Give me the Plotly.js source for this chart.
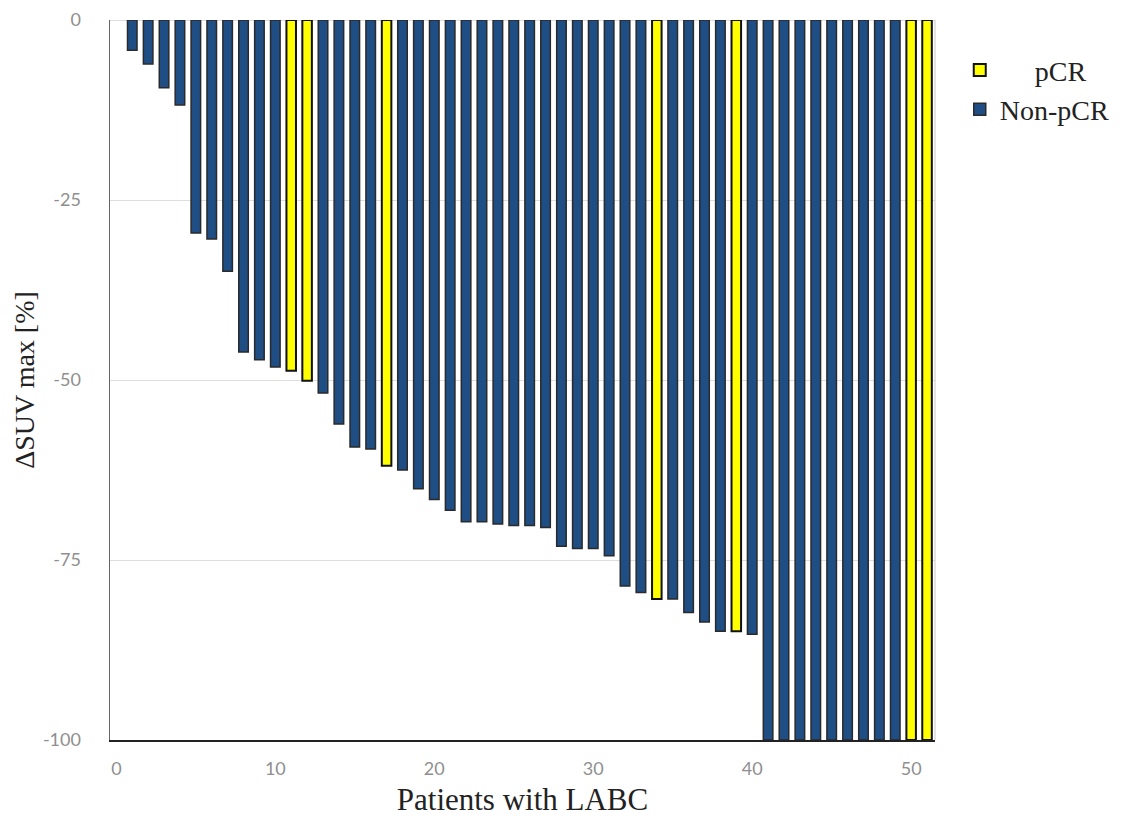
<!DOCTYPE html>
<html>
<head>
<meta charset="utf-8">
<script src="https://cdn.plot.ly/plotly-3.0.1.min.js"></script>
<style>html,body{margin:0;padding:0;background:#fff;}#chart{width:1128px;height:817px;}</style>
</head>
<body>
<div id="chart"></div>
<script>
// Patient index, ΔSUVmax (%), and response group
const patients = [1,2,3,4,5,6,7,8,9,10,11,12,13,14,15,16,17,18,19,20,21,22,23,24,25,26,27,28,29,30,31,32,33,34,35,36,37,38,39,40,41,42,43,44,45,46,47,48,49,50,51];
const deltaSUV = [-4.2,-6.1,-9.4,-11.8,-29.6,-30.4,-34.9,-46.1,-47.2,-48.2,-48.7,-50.1,-51.8,-56.1,-59.3,-59.6,-61.9,-62.5,-65.1,-66.6,-68.1,-69.7,-69.7,-70.0,-70.2,-70.2,-70.5,-73.1,-73.4,-73.4,-74.4,-78.6,-79.5,-80.4,-80.4,-82.3,-83.6,-84.9,-84.9,-85.3,-100,-100,-100,-100,-100,-100,-100,-100,-100,-100,-100];
const pCRPatients = [11,12,17,34,39,50,51];
const groupNames = ["pCR", "Non-pCR"];
const yTicks = [0,-25,-50,-75,-100];
const xTicks = [0,10,20,30,40,50];

const isPCR = patients.map(p => pCRPatients.includes(p));
function pick(flag) {
  const xs = [], ys = [];
  patients.forEach((p, i) => { if (isPCR[i] === flag) { xs.push(p); ys.push(deltaSUV[i]); } });
  return {xs, ys};
}
const a = pick(true), b = pick(false);

const traces = [
  {type:'bar', name:'&nbsp;&nbsp;&nbsp;&nbsp;&nbsp;' + groupNames[0], x:a.xs, y:a.ys, width:0.6,
   marker:{color:'#ffff00', line:{color:'#111111', width:2}}},
  {type:'bar', name:groupNames[1], x:b.xs, y:b.ys, width:0.6,
   marker:{color:'#1f4e85', line:{color:'#2a2a2a', width:1.5}}}
];

const layout = {
  width:1128, height:817,
  margin:{l:110, r:193, t:20, b:77, autoexpand:false},
  paper_bgcolor:'#ffffff', plot_bgcolor:'#ffffff',
  barmode:'overlay',
  showlegend:true,
  legend:{x:1.03, y:0.965, xanchor:'left', yanchor:'top',
    font:{family:'Liberation Serif', size:28, color:'#222'},
    tracegroupgap:0, itemwidth:30, traceorder:'normal'},
  xaxis:{range:[-0.4,51.5], tickvals:xTicks, ticktext:xTicks.map(String),
    showgrid:false, zeroline:false, showline:true, linecolor:'#222', linewidth:1.5,
    ticks:'', ticklabelstandoff:12,
    tickfont:{family:'Lato', size:18, color:'#8f8f8f'},
    title:{text:'Patients with LABC', font:{family:'Liberation Serif', size:31, color:'#222'}, standoff:10}},
  yaxis:{range:[-100,0], tickvals:yTicks, ticktext:yTicks.map(String),
    showgrid:true, gridcolor:'#dedede', gridwidth:1, zeroline:true, zerolinecolor:'#dedede', zerolinewidth:1,
    showline:true, linecolor:'#666', linewidth:1.5,
    ticks:'', ticklabelstandoff:24,
    tickfont:{family:'Lato', size:18, color:'#8f8f8f'},
    title:{text:'ΔSUV max [%]', font:{family:'Liberation Serif', size:28, color:'#222'}, standoff:0}},
  shapes:[{type:'line', xref:'paper', yref:'paper', x0:1, x1:1, y0:0, y1:1, line:{color:'#c8c8c8', width:1}}]
};

Plotly.newPlot('chart', traces, layout, {displayModeBar:false, staticPlot:true});
</script>
</body>
</html>
